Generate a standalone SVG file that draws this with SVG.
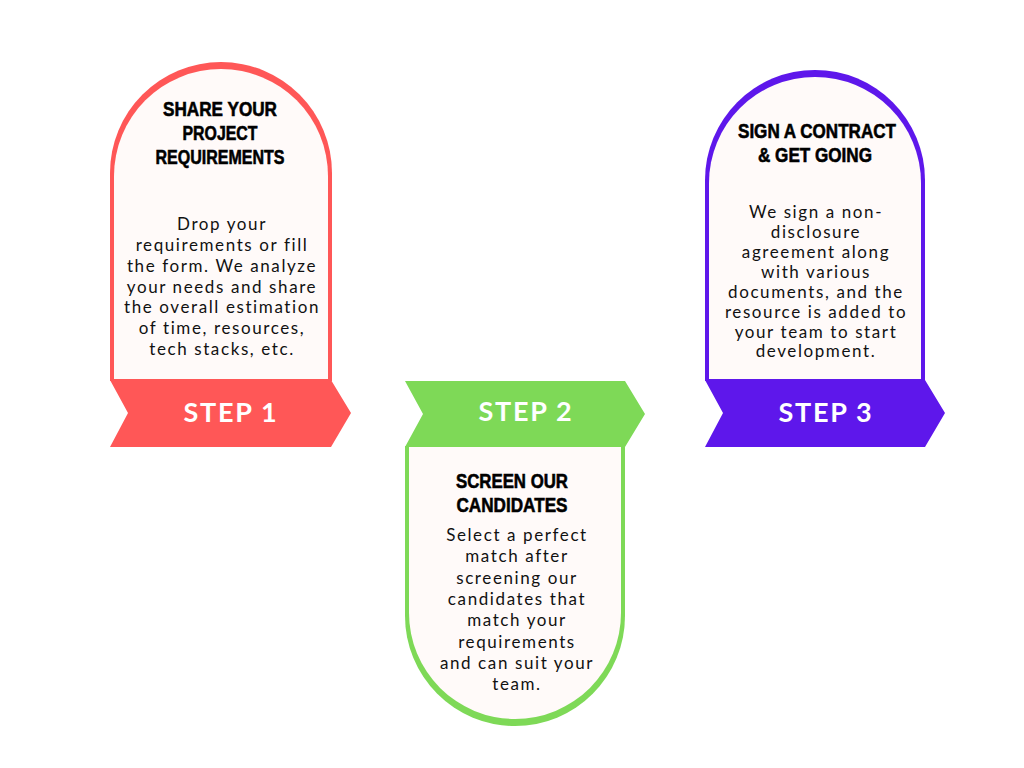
<svg xmlns="http://www.w3.org/2000/svg" width="1024" height="768" viewBox="0 0 1024 768">
<style>
.inner{fill:#FFFAF9}
.head{font-family:"Liberation Sans",Arial,sans-serif;font-weight:bold;font-size:20.5px;fill:#000;stroke:#000;stroke-width:0.6px;text-anchor:middle}
.body{font-family:Lato,"Liberation Sans",sans-serif;font-size:17px;fill:#111;text-anchor:middle;letter-spacing:1.6px}
.step{font-family:Lato,"Liberation Sans",sans-serif;font-weight:bold;font-size:27px;fill:#fff;text-anchor:middle;letter-spacing:1.7px}
.red{fill:#FF5757}.green{fill:#7ED957}.purple{fill:#5E17EB}
</style>
<rect width="1024" height="768" fill="#fff"/>
<g id="connectors"/>
<g id="step1">
<path class="red" d="M110,381 V173 A111,111 0 0 1 332,173 V381 Z"/>
<path class="inner" d="M114,379 V176 A107,107 0 0 1 328,176 V379 Z"/>
<path class="red" d="M110,380 H331 L351,413 L331,447 H110 L128,413 Z"/>
<text class="step" x="231" y="422">STEP 1</text>
<text class="head" x="220" y="116" textLength="114" lengthAdjust="spacingAndGlyphs">SHARE YOUR</text>
<text class="head" x="220" y="140" textLength="75" lengthAdjust="spacingAndGlyphs">PROJECT</text>
<text class="head" x="220" y="164" textLength="129" lengthAdjust="spacingAndGlyphs">REQUIREMENTS</text>
<text class="body"><tspan x="222" y="230">Drop your</tspan><tspan x="222" y="251">requirements or fill</tspan><tspan x="222" y="272">the form. We analyze</tspan><tspan x="222" y="292.5">your needs and share</tspan><tspan x="222" y="313">the overall estimation</tspan><tspan x="222" y="334">of time, resources,</tspan><tspan x="222" y="355">tech stacks, etc.</tspan></text>
</g>
<g id="step2">
<path class="green" d="M405,446 V616 A110,110 0 0 0 625,616 V446 Z"/>
<path class="inner" d="M409,447 V613 A106,106 0 0 0 621,613 V447 Z"/>
<path class="green" d="M405,381 H625 L645,414 L625,447 H405 L423,414 Z"/>
<text class="step" x="526" y="421">STEP 2</text>
<text class="head" x="512" y="488" textLength="112" lengthAdjust="spacingAndGlyphs">SCREEN OUR</text>
<text class="head" x="512" y="512" textLength="111" lengthAdjust="spacingAndGlyphs">CANDIDATES</text>
<text class="body"><tspan x="517" y="541">Select a perfect</tspan><tspan x="517" y="562.3">match after</tspan><tspan x="517" y="583.6">screening our</tspan><tspan x="517" y="604.9">candidates that</tspan><tspan x="517" y="626.2">match your</tspan><tspan x="517" y="647.5">requirements</tspan><tspan x="517" y="668.8">and can suit your</tspan><tspan x="517" y="690">team.</tspan></text>
</g>
<g id="step3">
<path class="purple" d="M705,381 V180 A110,110 0 0 1 925,180 V381 Z"/>
<path class="inner" d="M709,379 V183 A106,106 0 0 1 921,183 V379 Z"/>
<path class="purple" d="M705,380 H925 L945,413 L925,447 H705 L723,413 Z"/>
<text class="step" x="826" y="422">STEP 3</text>
<text class="head" x="817" y="138" textLength="158" lengthAdjust="spacingAndGlyphs">SIGN A CONTRACT</text>
<text class="head" x="815" y="162" textLength="114" lengthAdjust="spacingAndGlyphs">&amp; GET GOING</text>
<text class="body"><tspan x="816" y="218">We sign a non-</tspan><tspan x="816" y="238">disclosure</tspan><tspan x="816" y="258">agreement along</tspan><tspan x="816" y="278">with various</tspan><tspan x="816" y="298">documents, and the</tspan><tspan x="816" y="318">resource is added to</tspan><tspan x="816" y="338">your team to start</tspan><tspan x="816" y="357">development.</tspan></text>
</g>
</svg>
